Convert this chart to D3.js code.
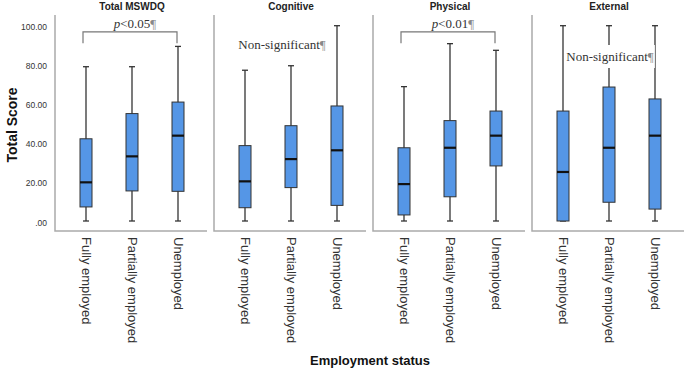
<!DOCTYPE html>
<html>
<head>
<meta charset="utf-8">
<script src="https://cdn.jsdelivr.net/npm/d3@7"></script>
<style>
  body { margin: 0; background: #fff; }
  svg { font-family: "Liberation Sans", Arial, sans-serif; }
</style>
</head>
<body>
<div id="chart"></div>
<script>
// panels and categories
const panels = ["Total MSWDQ", "Cognitive", "Physical", "External"];
const categories = ["Fully employed", "Partially employed", "Unemployed"];
const yTicks = [0, 20, 40, 60, 80, 100];
const yTickLabels = [".00", "20.00", "40.00", "60.00", "80.00", "100.00"];

// box stats per panel: [min, q1, median, q3, max] for each category
const totalStats = [[0, 7.2, 19.8, 42.1, 79], [0, 15.4, 33.1, 55, 79], [0, 15.2, 43.7, 60.9, 89.4]];
const cognitiveStats = [[0, 6.8, 20.3, 38.6, 77.2], [0, 17.1, 31.7, 48.8, 79.5], [0, 8, 36.2, 58.9, 100]];
const physicalStats = [[0, 3.1, 18.9, 37.5, 68.8], [0, 12.4, 37.5, 51.4, 90.8], [0, 28.2, 43.7, 56.3, 87.4]];
const externalStats = [[0, 0, 25.1, 56.3, 100], [0, 9.6, 37.5, 68.6, 100], [0, 6.1, 43.7, 62.5, 100]];
const allStats = [totalStats, cognitiveStats, physicalStats, externalStats];

// significance notes
const notes = ["p<0.05", "Non-significant", "p<0.01", "Non-significant"];
const hasBracket = [true, false, true, false];

const width = 685, height = 368;
const svg = d3.select("#chart").append("svg")
    .attr("width", width)
    .attr("height", height);

const panelLeft = 55, panelStep = 159, panelW = 152;
const y = d3.scaleLinear().domain([0, 100]).range([221, 25.7]);
const x = d3.scalePoint().domain(categories).range([31, 123]);
const boxW = 12, capW = 6;
const serif = "'Liberation Serif', 'Times New Roman', serif";

// y tick labels
svg.append("g").selectAll("text")
    .data(yTicks)
    .join("text")
    .attr("x", 47)
    .attr("y", d => y(d) + 1.5)
    .attr("text-anchor", "end")
    .attr("dominant-baseline", "central")
    .attr("font-size", 8.5)
    .attr("fill", "#333")
    .text((d, i) => yTickLabels[i]);

// y axis title
svg.append("text")
    .attr("transform", "translate(12," + 125 + ") rotate(-90)")
    .attr("text-anchor", "middle")
    .attr("dominant-baseline", "central")
    .attr("font-size", 14)
    .attr("font-weight", "bold")
    .attr("fill", "#111")
    .text("Total Score");

// x axis title
svg.append("text")
    .attr("x", 370)
    .attr("y", 360)
    .attr("text-anchor", "middle")
    .attr("dominant-baseline", "central")
    .attr("font-size", 13)
    .attr("font-weight", "bold")
    .attr("fill", "#111")
    .text("Employment status");

panels.forEach((name, p) => {
    const g = svg.append("g")
        .attr("transform", "translate(" + (panelLeft + p * panelStep) + ",0)");

    // frame: left and bottom lines
    g.append("path")
        .attr("d", "M0,15V231H" + panelW)
        .attr("fill", "none")
        .attr("stroke", "#aaa")
        .attr("stroke-width", 1.5);

    // panel title
    g.append("text")
        .attr("x", 77)
        .attr("y", 6)
        .attr("text-anchor", "middle")
        .attr("dominant-baseline", "central")
        .attr("font-size", 10)
        .attr("font-weight", "bold")
        .attr("fill", "#222")
        .text(name);

    const stats = allStats[p];
    const boxes = g.selectAll("g.box")
        .data(categories)
        .join("g")
        .attr("class", "box");

    // whiskers
    boxes.append("line")
        .attr("x1", d => x(d)).attr("x2", d => x(d))
        .attr("y1", (d, i) => y(stats[i][0]))
        .attr("y2", (d, i) => y(stats[i][4]))
        .attr("stroke", "#333")
        .attr("stroke-width", 1.3);
    [0, 4].forEach(k => {
        boxes.append("line")
            .attr("x1", d => x(d) - capW / 2).attr("x2", d => x(d) + capW / 2)
            .attr("y1", (d, i) => y(stats[i][k]))
            .attr("y2", (d, i) => y(stats[i][k]))
            .attr("stroke", "#333")
            .attr("stroke-width", 1.3);
    });

    // box
    boxes.append("rect")
        .attr("x", d => x(d) - boxW / 2)
        .attr("width", boxW)
        .attr("y", (d, i) => y(stats[i][3]))
        .attr("height", (d, i) => y(stats[i][1]) - y(stats[i][3]))
        .attr("fill", "#5596e6")
        .attr("stroke", "#333")
        .attr("stroke-width", 1);

    // median
    boxes.append("line")
        .attr("x1", d => x(d) - boxW / 2).attr("x2", d => x(d) + boxW / 2)
        .attr("y1", (d, i) => y(stats[i][2]))
        .attr("y2", (d, i) => y(stats[i][2]))
        .attr("stroke", "#111")
        .attr("stroke-width", 2.2);

    // category labels
    g.selectAll("text.cat")
        .data(categories)
        .join("text")
        .attr("class", "cat")
        .attr("transform", d => "translate(" + x(d) + ",237) rotate(90)")
        .attr("dominant-baseline", "central")
        .attr("font-size", 13)
        .attr("fill", "#333")
        .text(d => d);

    // significance notes
    if (hasBracket[p]) {
        const x0 = x(categories[0]) - 3, x1 = x(categories[2]) - 1;
        g.append("path")
            .attr("d", "M" + x0 + "," + y(91) + "V" + y(96.8) + "H" + x1 + "V" + y(91))
            .attr("fill", "none")
            .attr("stroke", "#777")
            .attr("stroke-width", 1.2);
        const t = g.append("text")
            .attr("x", 80)
            .attr("y", 28)
            .attr("text-anchor", "middle")
            .style("font-family", serif)
            .attr("font-size", 13)
            .attr("fill", "#333");
        t.append("tspan").attr("font-style", "italic").text(notes[p][0]);
        t.append("tspan").text(notes[p].slice(1));
        t.append("tspan").attr("fill", "#888").text("¶");
    } else {
        const noteG = g.append("g");
        const t = noteG.append("text")
            .attr("x", p === 1 ? 68 : 78)
            .attr("y", p === 1 ? 49 : 61)
            .attr("text-anchor", "middle")
            .style("font-family", serif)
            .attr("font-size", 13)
            .attr("fill", "#333");
        t.append("tspan").text(notes[p]);
        t.append("tspan").attr("fill", "#888").text("¶");
        const bb = t.node().getBBox();
        noteG.insert("rect", "text")
            .attr("x", bb.x - 1).attr("y", bb.y - 4)
            .attr("width", bb.width + 2).attr("height", bb.height + 8)
            .attr("fill", "#fff");
    }
});
</script>
</body>
</html>
